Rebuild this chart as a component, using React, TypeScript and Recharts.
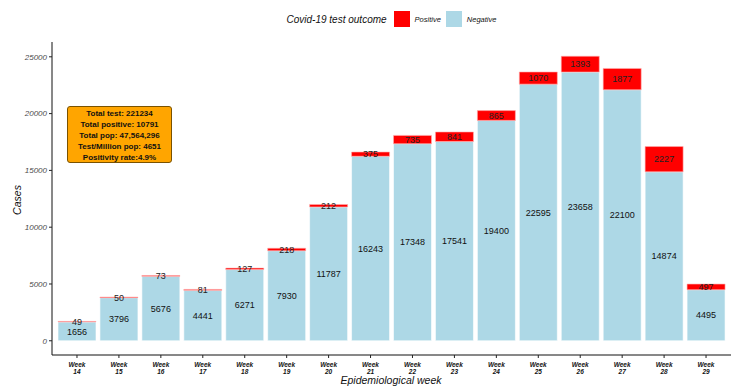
import { Bar, BarChart, LabelList, XAxis, YAxis } from 'recharts';

const weeks = ['14', '15', '16', '17', '18', '19', '20', '21', '22', '23', '24', '25', '26', '27', '28', '29'];
const negative = [1656, 3796, 5676, 4441, 6271, 7930, 11787, 16243, 17348, 17541, 19400, 22595, 23658, 22100, 14874, 4495];
const positive = [49, 50, 73, 81, 127, 218, 212, 375, 735, 841, 865, 1070, 1393, 1877, 2227, 497];
const yTicks = [0, 5000, 10000, 15000, 20000, 25000];
const summary = [
  'Total test: 221234',
  'Total positive: 10791',
  'Total pop: 47,564,296',
  'Test/Million pop: 4651',
  'Positivity rate:4.9%',
];

const data = weeks.map((w, i) => ({ week: w, Negative: negative[i], Positive: positive[i] }));

const font = '"Liberation Sans", Arial, sans-serif';

function WeekTick({ x, y, payload }: any) {
  return (
    <g transform={`translate(${x},${y})`}>
      <text textAnchor="middle" y={7} fontSize={6.5} fontWeight="bold" fontStyle="italic" fill="#111">
        Week
      </text>
      <text textAnchor="middle" y={13.5} fontSize={6.5} fontWeight="bold" fontStyle="italic" fill="#111">
        {payload.value}
      </text>
    </g>
  );
}

function LegendBox() {
  return (
    <div
      style={{
        position: 'absolute',
        left: 52,
        top: 11,
        width: 679,
        display: 'flex',
        alignItems: 'center',
        justifyContent: 'center',
        fontFamily: font,
        fontStyle: 'italic',
        color: '#111',
      }}
    >
      <span style={{ fontSize: 10, marginRight: 7 }}>Covid-19 test outcome</span>
      <span style={{ width: 16, height: 16, background: '#FF0000', display: 'inline-block' }} />
      <span style={{ fontSize: 7.5, marginLeft: 5, marginRight: 5 }}>Positive</span>
      <span style={{ width: 16, height: 16, background: '#ADD8E6', display: 'inline-block' }} />
      <span style={{ fontSize: 7.5, marginLeft: 5 }}>Negative</span>
    </div>
  );
}

export default function App() {
  return (
    <div style={{ position: 'absolute', left: 0, top: 0, width: 750, height: 388, background: '#fff' }}>
      <BarChart
        width={750}
        height={388}
        data={data}
        margin={{ top: 42, right: 19, left: 0, bottom: 0 }}
        style={{ fontFamily: font }}
      >
        <XAxis
          dataKey="week"
          tick={<WeekTick />}
          tickSize={3}
          tickLine={{ stroke: '#222' }}
          axisLine={{ stroke: '#111', strokeWidth: 1 }}
          padding={{ left: 4, right: 4 }}
          interval={0}
          height={33}
        />
        <YAxis
          width={52}
          type="number"
          domain={[-1252, 26304]}
          allowDataOverflow
          ticks={yTicks}
          tickSize={3}
          tickLine={{ stroke: '#222' }}
          axisLine={{ stroke: '#111', strokeWidth: 1 }}
          tick={{ fontSize: 8, fontStyle: 'italic', fill: '#4d4d4d' }}
        />
        <Bar dataKey="Negative" stackId="a" fill="#ADD8E6" stroke="#fff" strokeWidth={0.6} barSize={38} isAnimationActive={false}>
          <LabelList dataKey="Negative" position="center" fontSize={9} fill="#111" />
        </Bar>
        <Bar dataKey="Positive" stackId="a" fill="#FF0000" stroke="#ffb0b0" strokeWidth={0.6} barSize={38} isAnimationActive={false}>
          <LabelList dataKey="Positive" position="center" fontSize={9} fill="#222" />
        </Bar>
      </BarChart>
      <LegendBox />
      <div
        style={{
          position: 'absolute',
          left: 17,
          top: 200,
          transform: 'translate(-50%, -50%) rotate(-90deg)',
          fontFamily: font,
          fontStyle: 'italic',
          fontSize: 10.5,
          color: '#111',
        }}
      >
        Cases
      </div>
      <div
        style={{
          position: 'absolute',
          left: 391,
          top: 380,
          transform: 'translate(-50%, -50%)',
          fontFamily: font,
          fontStyle: 'italic',
          fontSize: 10.5,
          color: '#111',
          whiteSpace: 'nowrap',
        }}
      >
        Epidemiological week
      </div>
      <div
        style={{
          position: 'absolute',
          left: 67,
          top: 106,
          width: 105,
          height: 57,
          boxSizing: 'border-box',
          background: '#FFA500',
          border: '1px solid #7a5200',
          borderRadius: 3,
          fontFamily: font,
          fontWeight: 'bold',
          fontSize: 8,
          lineHeight: '11px',
          textAlign: 'center',
          paddingTop: 1,
          color: '#111',
        }}
      >
        {summary.map((s) => (
          <div key={s}>{s}</div>
        ))}
      </div>
    </div>
  );
}
